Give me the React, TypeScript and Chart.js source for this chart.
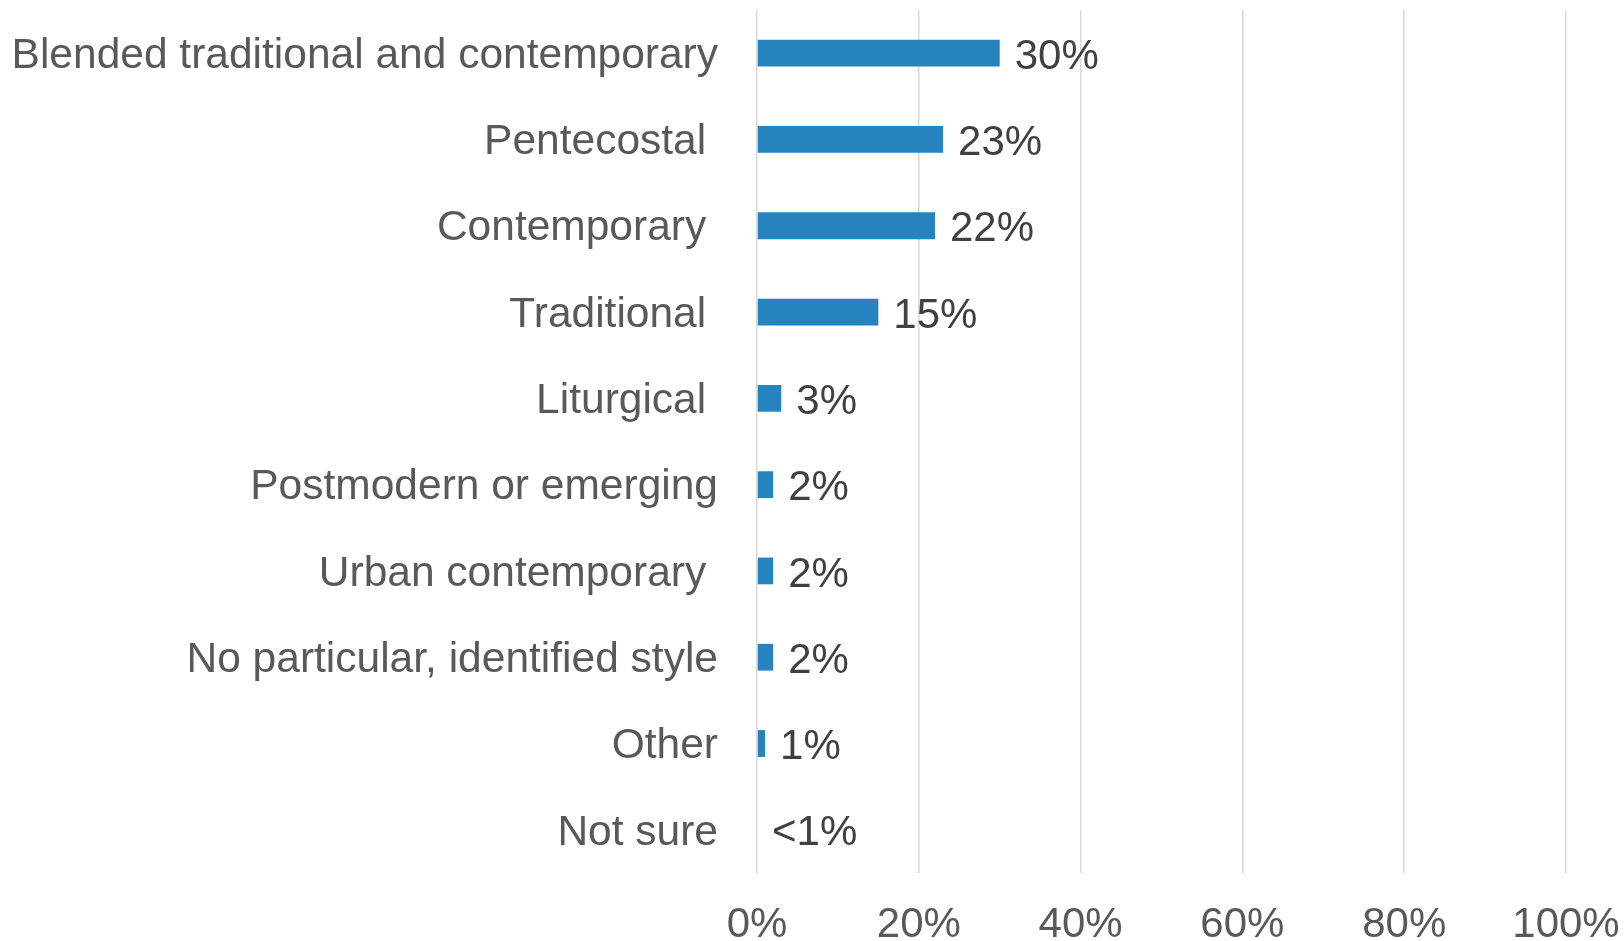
import React, { useEffect, useRef } from "react";
import { Chart, registerables } from "chart.js";

Chart.register(...registerables);

const categories = [
  "Blended traditional and contemporary",
  "Pentecostal ",
  "Contemporary ",
  "Traditional ",
  "Liturgical ",
  "Postmodern or emerging",
  "Urban contemporary ",
  "No particular, identified style",
  "Other",
  "Not sure",
];
const values = [30, 23, 22, 15, 3, 2, 2, 2, 1, 0];
const valueLabels = ["30%", "23%", "22%", "15%", "3%", "2%", "2%", "2%", "1%", "<1%"];
const xTicks = [0, 20, 40, 60, 80, 100];

const FONT = "'Liberation Sans', Arial, sans-serif";

const dataLabelPlugin = {
  id: "dataLabels",
  afterDatasetsDraw(chart: any) {
    const ctx = chart.ctx;
    const meta = chart.getDatasetMeta(0);
    const zeroX = chart.scales.x.getPixelForValue(0);
    ctx.save();
    ctx.font = `42px ${FONT}`;
    ctx.fillStyle = "#404040";
    ctx.textAlign = "left";
    ctx.textBaseline = "middle";
    meta.data.forEach((bar: any, i: number) => {
      const endX = Math.max(bar.x, zeroX);
      ctx.fillText(valueLabels[i], endX + 15, bar.y + 4);
    });
    ctx.restore();
  },
};

export default function App() {
  const ref = useRef<HTMLCanvasElement>(null);
  useEffect(() => {
    document.body.style.margin = "0";
    const chart = new Chart(ref.current!, {
      type: "bar",
      data: {
        labels: categories,
        datasets: [
          {
            data: values,
            backgroundColor: "#2683C0",
            borderWidth: 0,
            barPercentage: 0.62,
            categoryPercentage: 0.5,
          },
        ],
      },
      options: {
        indexAxis: "y",
        animation: false,
        responsive: false,
        maintainAspectRatio: false,
        layout: { padding: { top: 10, right: 58, left: 0, bottom: 0 } },
        plugins: {
          legend: { display: false },
          tooltip: { enabled: false },
        },
        scales: {
          x: {
            min: 0,
            max: 100,
            afterBuildTicks: (scale: any) => {
              scale.ticks = xTicks.map((v) => ({ value: v }));
            },
            afterFit: (scale: any) => {
              scale.height = 68;
              scale.paddingLeft = 0;
              scale.paddingRight = 0;
            },
            grid: { color: "#D9D9D9", lineWidth: 1.5, drawTicks: false },
            border: { display: false },
            ticks: {
              padding: 27,
              color: "#595959",
              font: { family: FONT, size: 42 },
              callback: (v: any) => `${v}%`,
              maxRotation: 0,
            },
          },
          y: {
            afterFit: (scale: any) => {
              scale.width = 757;
              scale.paddingTop = 0;
              scale.paddingBottom = 0;
            },
            grid: { display: false, drawTicks: false },
            border: { display: false },
            ticks: {
              padding: 39,
              labelOffset: 3,
              color: "#595959",
              font: { family: FONT, size: 42.5 },
              autoSkip: false,
            },
          },
        },
      },
      plugins: [dataLabelPlugin],
    });
    return () => chart.destroy();
  }, []);
  return (
    <div style={{ width: 1624, height: 941 }}>
      <canvas ref={ref} width={1624} height={941} style={{ display: "block" }} />
    </div>
  );
}
